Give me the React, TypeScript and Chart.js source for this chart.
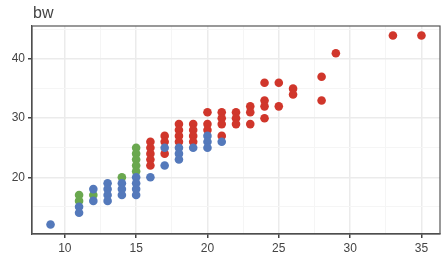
import React, { useEffect, useRef } from "react";
import { Chart, registerables } from "chart.js";

Chart.register(...registerables);

// Group A (blue)
const blueX = [9, 11, 11, 12, 12, 13, 13, 13, 13, 14, 14, 14, 15, 15, 15, 15, 16, 17, 17, 18, 18, 18, 19, 20, 20, 20, 21];
const blueY = [12, 15, 14, 18, 16, 19, 18, 17, 16, 19, 18, 17, 20, 19, 18, 17, 20, 25, 22, 25, 24, 23, 25, 27, 26, 25, 26];

// Group B (green)
const greenX = [11, 11, 12, 14, 15, 15, 15, 15, 15];
const greenY = [17, 16, 17, 20, 25, 24, 23, 22, 21];

// Group C (red)
const redX = [16, 16, 16, 16, 16, 17, 17, 17, 18, 18, 18, 18, 19, 19, 19, 19, 20, 20, 20, 21, 21, 21, 21, 22, 22, 22, 23, 23, 23, 24, 24, 24, 24, 25, 25, 26, 26, 28, 28, 29, 33, 35];
const redY = [26, 25, 24, 23, 22, 27, 26, 24, 29, 28, 27, 26, 29, 28, 27, 26, 31, 29, 28, 31, 30, 29, 27, 31, 30, 29, 32, 31, 29, 36, 33, 32, 30, 36, 32, 35, 34, 37, 33, 41, 44, 44];

const xTicks = [10, 12.5, 15, 17.5, 20, 22.5, 25, 27.5, 30, 32.5, 35];
const yTicks = [15, 20, 25, 30, 35, 40, 45];
const xMajor = [10, 15, 20, 25, 30, 35];
const yMajor = [20, 30, 40];

const yTitle = "bw";

const toPoints = (xs: number[], ys: number[]) => xs.map((x, i) => ({ x, y: ys[i] }));

export default function App() {
  const ref = useRef<HTMLCanvasElement | null>(null);

  useEffect(() => {
    document.body.style.margin = "0";
    const canvas = ref.current;
    if (!canvas) return;

    const framePlugin = {
      id: "frame",
      afterDraw(chart: any) {
        const { ctx, chartArea } = chart;
        ctx.save();
        ctx.strokeStyle = "#555";
        ctx.lineWidth = 1.2;
        ctx.strokeRect(chartArea.left, chartArea.top, chartArea.right - chartArea.left, chartArea.bottom - chartArea.top);
        ctx.fillStyle = "#444";
        ctx.font = "16px 'Liberation Sans', Arial, sans-serif";
        ctx.textBaseline = "alphabetic";
        ctx.textAlign = "left";
        ctx.fillText(yTitle, 33, 18);
        ctx.restore();
      },
    };

    const font = { family: "'Liberation Sans', Arial, sans-serif", size: 12 };

    const chart = new Chart(canvas, {
      type: "scatter",
      data: {
        datasets: [
          { data: toPoints(blueX, blueY), backgroundColor: "#5479bb", borderWidth: 0, pointRadius: 4.3, pointHoverRadius: 4.3 },
          { data: toPoints(greenX, greenY), backgroundColor: "#6aa84f", borderWidth: 0, pointRadius: 4.3, pointHoverRadius: 4.3 },
          { data: toPoints(redX, redY), backgroundColor: "#d0362b", borderWidth: 0, pointRadius: 4.3, pointHoverRadius: 4.3 },
        ],
      },
      options: {
        responsive: false,
        animation: false,
        devicePixelRatio: 1,
        layout: { padding: { top: 26, right: 7, left: 0, bottom: 0 } },
        plugins: { legend: { display: false }, tooltip: { enabled: false } },
        scales: {
          x: {
            type: "linear",
            min: 7.7,
            max: 36.3,
            afterBuildTicks: (scale: any) => {
              scale.ticks = xTicks.map((v) => ({ value: v }));
            },
            afterFit: (scale: any) => {
              scale.height = 28;
            },
            ticks: {
              color: "#444",
              font,
              padding: 3,
              maxRotation: 0,
              autoSkip: false,
              callback: (v: any) => (xMajor.includes(Number(v)) ? String(v) : ""),
            },
            grid: {
              color: (c: any) => (xMajor.includes(c.tick?.value) ? "#ebebeb" : "#f5f5f5"),
              lineWidth: (c: any) => (xMajor.includes(c.tick?.value) ? 1.5 : 1),
              tickColor: (c: any) => (xMajor.includes(c.tick?.value) ? "#444" : "rgba(0,0,0,0)"),
              tickLength: 4,
            },
            border: { display: true, color: "#444", width: 1.2 },
          },
          y: {
            type: "linear",
            min: 10.4,
            max: 45.6,
            afterBuildTicks: (scale: any) => {
              scale.ticks = yTicks.map((v) => ({ value: v }));
            },
            afterFit: (scale: any) => {
              scale.width = 32;
            },
            ticks: {
              color: "#444",
              font,
              padding: 3,
              autoSkip: false,
              callback: (v: any) => (yMajor.includes(Number(v)) ? String(v) : ""),
            },
            grid: {
              color: (c: any) => (yMajor.includes(c.tick?.value) ? "#ebebeb" : "#f5f5f5"),
              lineWidth: (c: any) => (yMajor.includes(c.tick?.value) ? 1.5 : 1),
              tickColor: (c: any) => (yMajor.includes(c.tick?.value) ? "#444" : "rgba(0,0,0,0)"),
              tickLength: 4,
            },
            border: { display: true, color: "#444", width: 1.2 },
          },
        },
      },
      plugins: [framePlugin],
    } as any);

    return () => chart.destroy();
  }, []);

  return (
    <div style={{ width: 447, height: 262 }}>
      <canvas ref={ref} width={447} height={262} style={{ display: "block" }} />
    </div>
  );
}
